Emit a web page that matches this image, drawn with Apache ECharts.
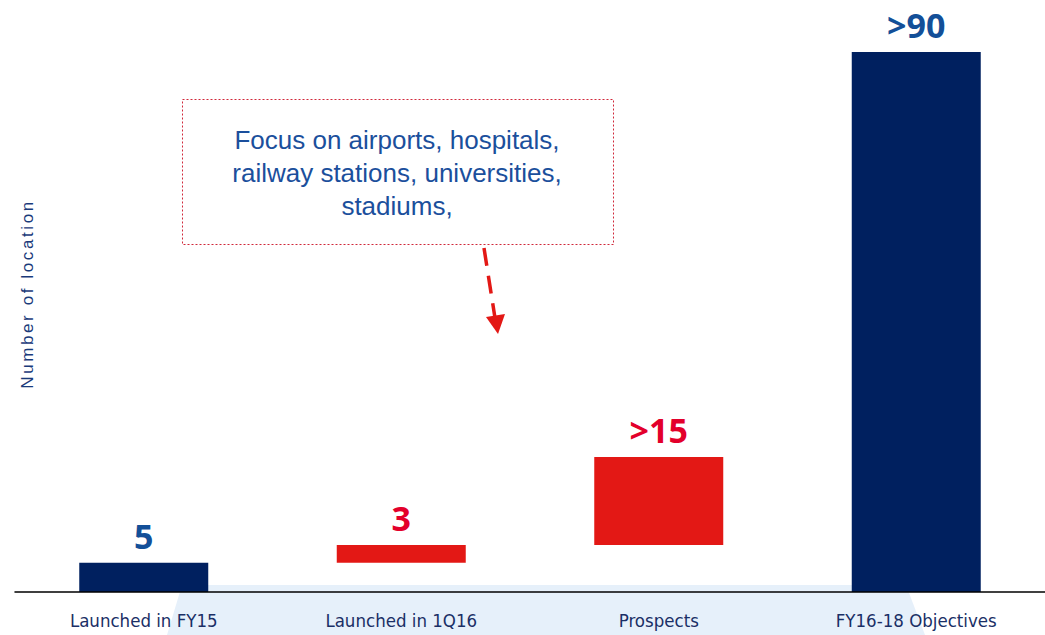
<!DOCTYPE html>
<html>
<head>
<meta charset="utf-8">
<script src="https://cdn.jsdelivr.net/npm/echarts@6/dist/echarts.min.js"></script>
<style>
html,body{margin:0;padding:0;background:#fff;}
#main{width:1045px;height:635px;}
</style>
</head>
<body>
<div id="main"></div>
<script>
const categories = ['Launched in FY15', 'Launched in 1Q16', 'Prospects', 'FY16-18 Objectives'];
const baseValues = [0, 5, 8, 0];
const barValues = [5, 3, 15, 92];
const labelTexts = ['5', '3', '>15', '>90'];
const barColors = ['#00205f', '#e31815', '#e31815', '#00205f'];
const labelColors = ['#134f98', '#e3002b', '#e3002b', '#134f98'];
const noteLines = ['Focus on airports, hospitals,', 'railway stations, universities,', 'stadiums,'];
const yAxisTitle = 'Number of location';

const chart = echarts.init(document.getElementById('main'), null, {renderer: 'svg'});
chart.setOption({
  animation: false,
  grid: {left: 15, right: 0, top: 52, bottom: 43, containLabel: false, outerBoundsMode: 'none'},
  xAxis: {
    type: 'category',
    data: categories,
    axisLine: {lineStyle: {color: '#000', width: 1.5}},
    axisTick: {show: false},
    axisLabel: {
      color: '#1a2f66',
      fontFamily: '"Liberation Sans Narrow", "DejaVu Sans Condensed", Arial, sans-serif',
      fontSize: 18.5,
      margin: 19
    },
    z: 10
  },
  yAxis: {
    type: 'value', min: 0, max: 92,
    show: false
  },
  graphic: [
    {
      type: 'polygon', z: -10, silent: true,
      shape: {points: [[182, 585], [906, 585], [925, 635], [167, 635]]},
      style: {fill: '#e6f0fa'}
    },
    {
      type: 'text', silent: true,
      x: 27, y: 294, rotation: Math.PI / 2,
      style: {
        text: yAxisTitle,
        fill: '#1a3a7a',
        fontSize: 17,
        fontFamily: 'Liberation Sans',
        align: 'center',
        verticalAlign: 'middle'
      }
    },
    {
      type: 'rect', silent: true,
      shape: {x: 182.5, y: 99.5, width: 431, height: 145},
      style: {fill: 'none', stroke: '#d0283a', lineWidth: 1, lineDash: [2, 2]}
    },
    {
      type: 'text', silent: true,
      x: 397, y: 173,
      style: {
        text: noteLines.join('\n'),
        fill: '#1b4f9c',
        fontSize: 26,
        fontFamily: 'Liberation Sans',
        lineHeight: 33,
        align: 'center',
        verticalAlign: 'middle'
      }
    },
    {
      type: 'line', silent: true,
      shape: {x1: 484, y1: 248, x2: 495, y2: 318},
      style: {stroke: '#e31815', lineWidth: 3.5, lineDash: [18, 10]}
    },
    {
      type: 'polygon', silent: true,
      shape: {points: [[486, 317], [505, 314], [498, 334]]},
      style: {fill: '#e31815'}
    }
  ],
  series: [
    {
      type: 'bar', stack: 'w', barWidth: 129,
      data: baseValues,
      itemStyle: {color: 'transparent'},
      silent: true
    },
    {
      type: 'bar', stack: 'w', barWidth: 129,
      data: barValues.map((v, i) => ({
        value: v,
        itemStyle: {color: barColors[i]},
        label: {color: labelColors[i]}
      })),
      label: {
        show: true,
        position: 'top',
        distance: 10,
        fontSize: 34,
        fontWeight: 'bold',
        fontFamily: '"Open Sans", Lato, sans-serif',
        formatter: p => labelTexts[p.dataIndex]
      }
    }
  ]
});
document.querySelectorAll('#main text').forEach(t => {
  if (t.textContent === yAxisTitle) t.style.letterSpacing = '2.6px';
});
</script>
</body>
</html>
